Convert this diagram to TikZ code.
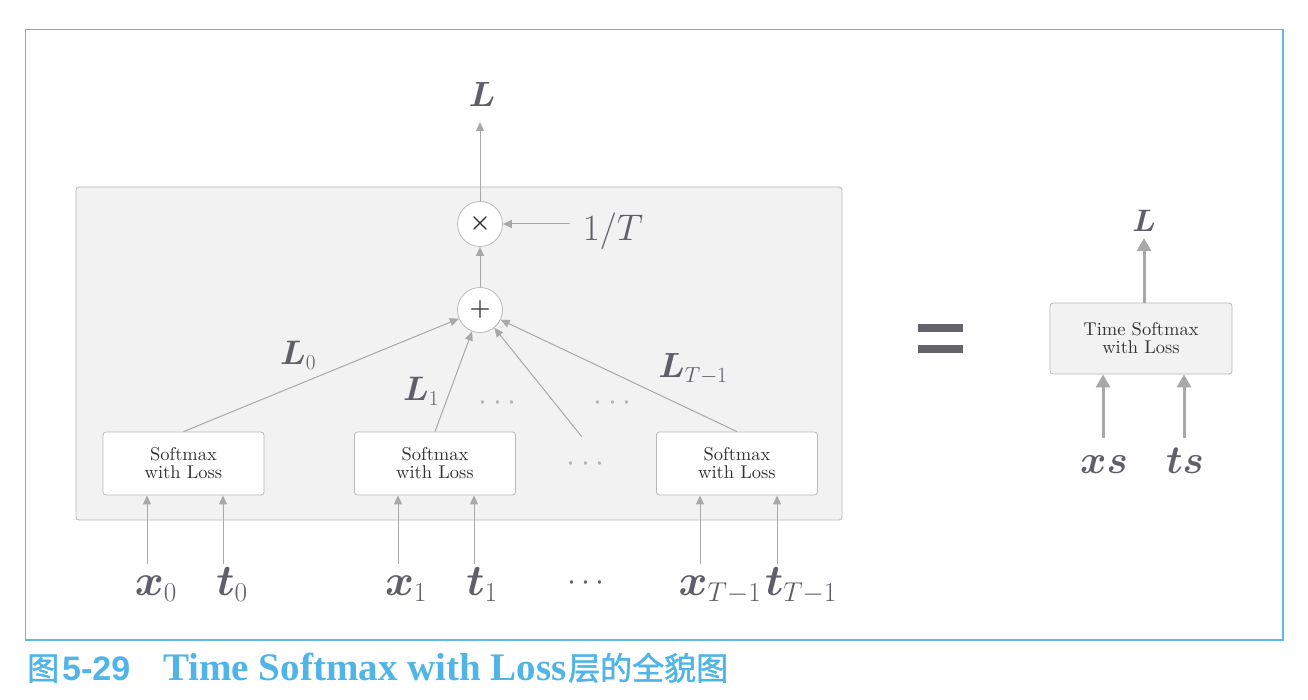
\RequirePackage{fix-cm}
\documentclass[tikz,border=0pt]{standalone}
\usepackage{fontspec}
\usepackage{bm}
\usetikzlibrary{arrows.meta}
\newfontfamily\cjk[AutoFakeBold=1.5]{Noto Sans CJK SC}
\newfontfamily\capsans{Liberation Sans}
\newfontfamily\capserif{Liberation Serif}
\newfontfamily\boxfont{lmroman10-regular.otf}
\renewcommand\defaultscriptratio{.62}
\definecolor{framec}{RGB}{95,185,228}
\definecolor{capc}{RGB}{80,180,230}
\definecolor{linec}{RGB}{168,168,170}
\definecolor{boxc}{RGB}{185,185,188}
\definecolor{panelc}{RGB}{242,242,242}
\definecolor{labc}{RGB}{95,95,105}
\definecolor{txtc}{RGB}{50,50,50}
\definecolor{dotc}{RGB}{180,180,180}
\definecolor{eqc}{RGB}{100,100,106}
\begin{document}
\begin{tikzpicture}[x=1pt,y=-1pt,
  ln/.style={draw=linec, line width=1pt, -{Triangle[length=9pt,width=8pt]}},
  thk/.style={draw=linec, line width=3pt, -{Triangle[length=13pt,width=14pt]}},
  smbox/.style={draw=boxc, fill=white, rounded corners=3pt, minimum width=161pt,
    minimum height=63pt, inner sep=0pt, align=center, text=txtc, line width=0.8pt,
    font=\boxfont\fontsize{18.5}{18}\selectfont},
  bigbox/.style={smbox, fill=panelc, minimum width=182pt, minimum height=71pt},
  op/.style={circle, draw=boxc, fill=white, minimum size=45pt, inner sep=0pt,
    line width=0.8pt, text=txtc, font=\fontsize{24}{24}\selectfont},
  lab/.style={text=labc, anchor=base, inner sep=0pt},
  inlab/.style={lab, font=\fontsize{44}{48}\selectfont},
  Llab/.style={lab, font=\fontsize{34}{38}\selectfont},
  dotlab/.style={anchor=base, inner sep=0pt, text=dotc, font=\fontsize{32}{34}\selectfont},
  captxt/.style={anchor=base west, inner sep=0pt, text=capc}
]
\useasboundingbox (0,0) rectangle (1308,700);
% frame
\draw[framec, line width=1.3pt] (25.5,29.5) rectangle (1283,640);
% panel
\draw[draw=boxc, fill=panelc, rounded corners=3pt, line width=0.8pt] (76,187) rectangle (842,520);

% boxes
\node[smbox] (b1) at (183.5,463.5) {Softmax\\with Loss};
\node[smbox] (b2) at (435,463.5) {Softmax\\with Loss};
\node[smbox] (b3) at (737,463.5) {Softmax\\with Loss};

% operators
\node[op] (mul) at (480,224) {$\bm{\times}$};
\node[op] (plus) at (480,310) {$\bm{+}$};

% top output
\coordinate (Ltip) at (480,122);
\draw[ln] (mul) -- (Ltip);
\node[lab, font=\fontsize{35}{38}\selectfont] (Ltop) at (482,107) {$\bm{L}$};

% 1/T
\coordinate (tstart) at (570,224);
\draw[ln] (tstart) -- (mul);
\node[lab, font=\fontsize{37}{40}\selectfont] (invT) at (613,241) {$1/T$};

\draw[ln] (plus) -- (mul);

% lines into plus
\coordinate (d1) at (582,437);
\draw[ln] (b1.north) -- (plus);
\draw[ln] (b2.north) -- (plus);
\draw[ln] (d1) -- (plus);
\draw[ln] (b3.north) -- (plus);

% L labels
\node[Llab] (L0) at (298,364) {$\bm{L}_0$};
\node[Llab] (L1) at (421,400) {$\bm{L}_1$};
\node[Llab, font=\fontsize{35}{38}\selectfont] (LT) at (693,377) {$\bm{L}_{T-1}$};

% dots in panel
\node[dotlab] (dA) at (497.5,410) {$\cdots$};
\node[dotlab] (dB) at (612.5,410) {$\cdots$};
\node[dotlab] (dC) at (585.5,471) {$\cdots$};

% inputs
\coordinate (ix0) at (147,564);
\coordinate (it0) at (223,564);
\coordinate (ix1) at (398,564);
\coordinate (it1) at (474,564);
\coordinate (ix2) at (700,564);
\coordinate (it2) at (777,564);
\draw[ln] (ix0) -- (b1.south -| ix0);
\draw[ln] (it0) -- (b1.south -| it0);
\draw[ln] (ix1) -- (b2.south -| ix1);
\draw[ln] (it1) -- (b2.south -| it1);
\draw[ln] (ix2) -- (b3.south -| ix2);
\draw[ln] (it2) -- (b3.south -| it2);

\node[inlab] (x0) at (156,595) {$\bm{x}_0$};
\node[inlab] (t0) at (232,595) {$\bm{t}_0$};
\node[inlab] (x1) at (406,595) {$\bm{x}_1$};
\node[inlab] (t1) at (482,595) {$\bm{t}_1$};
\node[inlab] (x2) at (720,595) {$\bm{x}_{T-1}$};
\node[inlab] (t2) at (801,595) {$\bm{t}_{T-1}$};
\node[dotlab, text=labc] (dD) at (586,590) {$\cdots$};

% equals sign
\fill[eqc] (918,324) rectangle (963,332);
\fill[eqc] (918,345) rectangle (963,353);

% right side
\node[bigbox] (tb) at (1141,338.5) {Time Softmax\\with Loss};
\coordinate (rL) at (1144,238);
\coordinate (rxs) at (1103,438);
\coordinate (rts) at (1184,438);
\draw[thk] (tb.north -| rL) -- (rL);
\draw[thk] (rxs) -- (tb.south -| rxs);
\draw[thk] (rts) -- (tb.south -| rts);
\node[lab, font=\fontsize{31}{34}\selectfont] (RL) at (1144,232) {$\bm{L}$};
\node[lab, font=\fontsize{40}{44}\selectfont] (xs) at (1104,473) {$\bm{xs}$};
\node[lab, font=\fontsize{40}{44}\selectfont] (ts) at (1185,473) {$\bm{ts}$};

% caption
\node[captxt, font=\cjk\bfseries\fontsize{32}{32}\selectfont] (c1) at (27,680) {图};
\node[captxt, font=\capsans\bfseries\fontsize{34}{34}\selectfont] (c2) at (62,680) {5-29};
\node[captxt, font=\capserif\bfseries\fontsize{39}{39}\selectfont] (c3) at (163,680) {Time Softmax with Loss};
\node[captxt, font=\cjk\bfseries\fontsize{32}{32}\selectfont] (c4) at (568,680) {层的全貌图};
\end{tikzpicture}
\end{document}
